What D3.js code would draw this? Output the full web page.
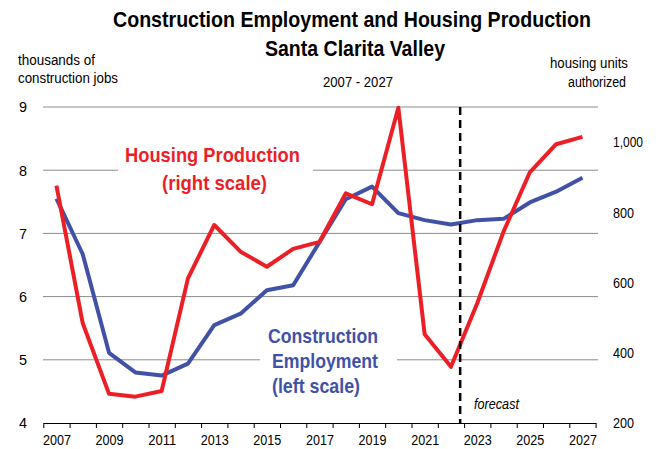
<!DOCTYPE html>
<html lang="en">
<head>
<meta charset="utf-8">
<script src="https://d3js.org/d3.v7.min.js"></script>
<style>
  body { margin: 0; background: #fff; }
  svg text { font-family: "Liberation Sans", Arial, sans-serif; }
</style>
</head>
<body>
<div id="chart"></div>
<script>
// data
var years = d3.range(2007, 2028);
var jobs = [7.55, 6.67, 5.11, 4.80, 4.75, 4.94, 5.55, 5.73, 6.10, 6.18, 6.86, 7.54, 7.74, 7.32, 7.21, 7.14, 7.21, 7.23, 7.49, 7.66, 7.88];
var units = [876, 484, 283, 275, 291, 612, 764, 688, 645, 696, 716, 854, 823, 1098, 453, 360, 541, 745, 914, 994, 1015];
var leftTicks = [4, 5, 6, 7, 8, 9];
var rightTicks = [200, 400, 600, 800, 1000];
var yearLabels = d3.range(2007, 2028, 2);
var forecastYear = 2022.35;

var W = 658, H = 449;
var svg = d3.select("#chart").append("svg")
  .attr("width", W).attr("height", H);

var x = d3.scaleLinear().domain([2006.5, 2027.5]).range([43.3, 595.6]);
var yL = d3.scaleLinear().domain([4, 9]).range([423, 107]);
var yR = d3.scaleLinear().domain([200, 1100]).range([423, 107]);

// gridlines
svg.append("g").selectAll("line")
  .data(leftTicks.filter(function(d) { return d > 4; }))
  .join("line")
    .attr("x1", 43).attr("x2", 598)
    .attr("y1", function(d) { return yL(d); })
    .attr("y2", function(d) { return yL(d); })
    .attr("stroke", "#8c8c8c").attr("stroke-width", 1);

// white boxes behind the series labels
svg.append("rect").attr("x", 118).attr("y", 140).attr("width", 195).attr("height", 58).attr("fill", "#fff");
svg.append("rect").attr("x", 260).attr("y", 322).attr("width", 137).attr("height", 78).attr("fill", "#fff");

// x axis
var xAxis = svg.append("g").attr("transform", "translate(0,423)")
  .call(d3.axisBottom(x).tickValues(d3.range(2006.5, 2028, 1)).tickFormat("").tickSize(5).tickSizeOuter(0));
xAxis.select(".domain").attr("stroke", "#000").attr("stroke-width", 1.2);
xAxis.selectAll(".tick line").attr("stroke", "#000");

var xLab = svg.append("g").attr("transform", "translate(0,423)")
  .call(d3.axisBottom(x).tickValues(yearLabels).tickFormat(d3.format("d")).tickSize(0).tickPadding(11));
xLab.select(".domain").remove();
xLab.selectAll("text").attr("font-size", 15).attr("fill", "#000")
  .attr("textLength", 28).attr("lengthAdjust", "spacingAndGlyphs");

// left axis labels
var yAxL = svg.append("g").attr("transform", "translate(27,0)")
  .call(d3.axisLeft(yL).tickValues(leftTicks).tickFormat(d3.format("d")).tickSize(0).tickPadding(0));
yAxL.select(".domain").remove();
yAxL.selectAll("text").attr("font-size", 15).attr("fill", "#000")
  .attr("textLength", 8).attr("lengthAdjust", "spacingAndGlyphs");

// right axis labels
var yAxR = svg.append("g").attr("transform", "translate(613,0)")
  .call(d3.axisRight(yR).tickValues(rightTicks).tickFormat(d3.format(",")).tickSize(0).tickPadding(0));
yAxR.select(".domain").remove();
yAxR.selectAll("text").attr("font-size", 15).attr("fill", "#000")
  .attr("textLength", function(d) { return d >= 1000 ? 30 : 21; })
  .attr("lengthAdjust", "spacingAndGlyphs");
svg.selectAll("g").attr("font-family", null);

// series
var blueLine = d3.line()
  .x(function(d, i) { return x(years[i]); })
  .y(function(d) { return yL(d); });
var redLine = d3.line()
  .x(function(d, i) { return x(years[i]); })
  .y(function(d) { return yR(d); });

svg.append("path").datum(jobs)
  .attr("d", blueLine)
  .attr("fill", "none").attr("stroke", "#4152a6").attr("stroke-width", 4)
  .attr("stroke-linejoin", "round");

svg.append("path").datum(units)
  .attr("d", redLine)
  .attr("fill", "none").attr("stroke", "#ec1f27").attr("stroke-width", 4)
  .attr("stroke-linejoin", "round");

// forecast marker
svg.append("line")
  .attr("x1", x(forecastYear)).attr("x2", x(forecastYear))
  .attr("y1", yL(9)).attr("y2", yL(4))
  .attr("stroke", "#000").attr("stroke-width", 2.5).attr("stroke-dasharray", "8,5");

// titles and notes
function label(txt, xp, yp, size, opts) {
  opts = opts || {};
  var t = svg.append("text").attr("x", xp).attr("y", yp)
    .attr("font-size", size)
    .attr("fill", opts.fill || "#000")
    .attr("font-weight", opts.bold ? "bold" : "normal")
    .attr("font-style", opts.italic ? "italic" : "normal")
    .attr("text-anchor", opts.anchor || "start")
    .text(txt);
  if (opts.len) t.attr("textLength", opts.len).attr("lengthAdjust", "spacingAndGlyphs");
  return t;
}

label("forecast", 474, 409, 14, {italic: true, len: 45});

label("Construction Employment and Housing Production", 113, 27, 22, {bold: true, len: 478});
label("Santa Clarita Valley", 265, 56, 22, {bold: true, len: 180});
label("2007 - 2027", 323, 87, 15, {len: 70});
label("thousands of", 18, 65, 14, {len: 77});
label("construction jobs", 18, 83, 14, {len: 100});
label("housing units", 550, 68, 14, {len: 78});
label("authorized", 568, 87, 14, {len: 58});

label("Housing Production", 125, 162, 21, {bold: true, fill: "#ec1f27", len: 175});
label("(right scale)", 162, 190, 21, {bold: true, fill: "#ec1f27", len: 105});
label("Construction", 268, 343, 21, {bold: true, fill: "#4152a6", len: 110});
label("Employment", 272, 368, 21, {bold: true, fill: "#4152a6", len: 106});
label("(left scale)", 272, 393, 21, {bold: true, fill: "#4152a6", len: 88});
</script>
</body>
</html>
